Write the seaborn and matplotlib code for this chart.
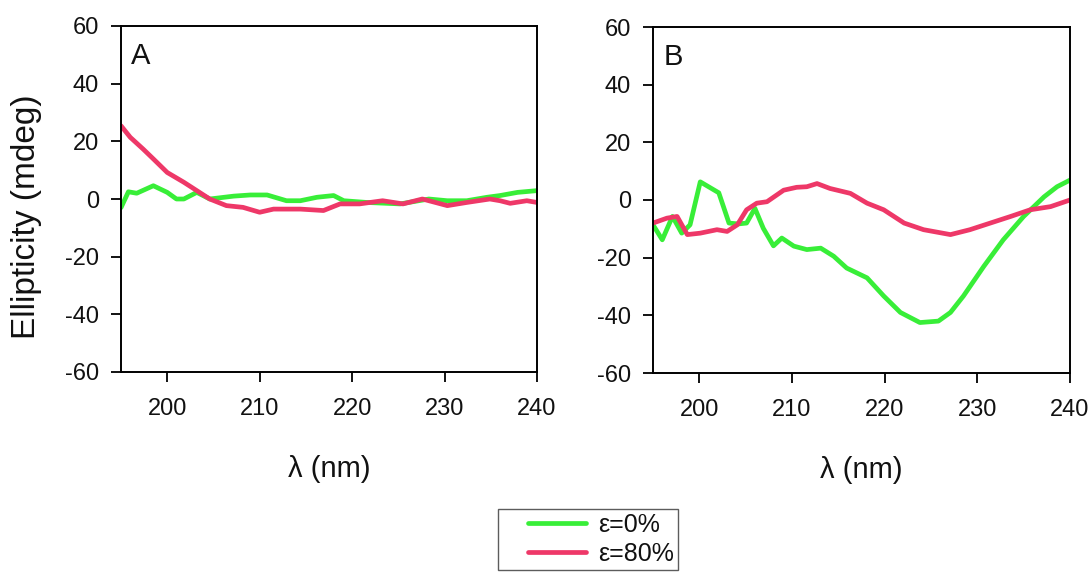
import seaborn as sns
import matplotlib.pyplot as plt
from matplotlib.legend_handler import HandlerLine2D
import pandas as pd

# Panel A, eps = 0 %
a_x0 = [195.0, 195.8, 196.7, 198.5, 200.0, 201.0, 201.8, 203.2, 204.6, 207.2, 209.0,
        210.8, 212.9, 214.4, 216.2, 218.0, 219.1, 221.6, 225.2, 228.3, 230.3, 232.4,
        234.6, 236.0, 237.9, 240.0]
a_y0 = [-3.0, 2.5, 2.0, 4.6, 2.3, 0.0, 0.0, 2.3, 0.0, 1.0, 1.4,
        1.4, -0.6, -0.6, 0.6, 1.2, -0.6, -1.2, -1.7, 0.0, -0.6, -0.6,
        0.6, 1.2, 2.3, 2.9]
# Panel A, eps = 80 %
a_x80 = [195.0, 196.0, 197.4, 198.5, 200.0, 201.8, 203.2, 204.6, 206.4, 208.2, 210.0,
         211.5, 214.4, 216.9, 218.7, 220.8, 223.3, 225.5, 227.6, 230.3, 232.4, 234.9,
         236.0, 237.1, 238.9, 240.0]
a_y80 = [25.4, 21.4, 17.3, 13.9, 9.2, 5.8, 2.9, 0.0, -2.3, -2.9, -4.6,
         -3.5, -3.5, -4.0, -1.7, -1.7, -0.6, -1.7, 0.0, -2.3, -1.2, 0.0,
         -0.6, -1.5, -0.6, -1.2]

# Panel B, eps = 0 %
b_x0 = [195.0, 196.0, 197.1, 198.1, 199.0, 200.1, 202.1, 203.2, 204.2, 205.1, 206.0,
        206.9, 208.0, 208.9, 210.2, 211.6, 213.1, 214.5, 215.9, 218.1, 219.9, 221.7,
        223.8, 225.8, 227.1, 228.5, 230.7, 232.8, 235.0, 237.2, 238.6, 240.0]
b_y0 = [-8.6, -13.8, -5.7, -11.5, -8.6, 6.3, 2.5, -8.0, -8.3, -8.0, -2.9,
        -9.8, -15.9, -13.2, -16.0, -17.2, -16.7, -19.5, -23.6, -27.0, -33.3, -39.0,
        -42.5, -42.0, -39.0, -33.3, -23.0, -13.8, -5.7, 1.1, 4.6, 6.9]
# Panel B, eps = 80 %
b_x80 = [195.0, 196.5, 197.6, 198.7, 200.1, 201.9, 203.0, 204.1, 205.1, 206.2, 207.3,
         209.1, 210.5, 211.6, 212.7, 214.1, 216.3, 218.1, 219.9, 222.1, 224.2, 227.1,
         229.2, 231.4, 233.6, 235.7, 237.9, 240.0]
b_y80 = [-8.0, -6.3, -5.7, -12.0, -11.5, -10.3, -10.9, -8.6, -3.4, -1.1, -0.6,
         3.4, 4.4, 4.6, 5.7, 4.0, 2.3, -1.1, -3.4, -8.0, -10.3, -12.0,
         -10.3, -8.0, -5.7, -3.4, -2.3, 0.0]

labels = ['ε=0%', 'ε=80%']
colors = {'ε=0%': '#38ee38', 'ε=80%': '#ee3868'}

sns.set_theme(style='ticks')
plt.rcParams['font.family'] = ['Liberation Sans', 'DejaVu Sans']
plt.rcParams['axes.unicode_minus'] = False


def make_df(x0, y0, x80, y80):
    d0 = pd.DataFrame({'wl': x0, 'ell': y0, 'eps': labels[0]})
    d80 = pd.DataFrame({'wl': x80, 'ell': y80, 'eps': labels[1]})
    return pd.concat([d0, d80], ignore_index=True)


fig = plt.figure(figsize=(10.92, 5.74), dpi=100)
axA = fig.add_axes([121 / 1092, 1 - 372 / 574, 416 / 1092, 346 / 574])
axB = fig.add_axes([653 / 1092, 1 - 373 / 574, 417 / 1092, 346 / 574])

panels = [(axA, make_df(a_x0, a_y0, a_x80, a_y80), 'A'),
          (axB, make_df(b_x0, b_y0, b_x80, b_y80), 'B')]

for ax, df, tag in panels:
    sns.lineplot(data=df, x='wl', y='ell', hue='eps', hue_order=labels,
                 palette=colors, estimator=None, linewidth=3.4, ax=ax, legend=False)
    ax.set_xlim(195, 240)
    ax.set_ylim(-60, 60)
    ax.set_xticks([200, 210, 220, 230, 240])
    ax.set_yticks([-60, -40, -20, 0, 20, 40, 60])
    ax.tick_params(axis='both', labelsize=17, length=7, width=1.3,
                   color='black', labelcolor='#111111')
    ax.tick_params(axis='x', pad=12)
    ax.tick_params(axis='y', pad=9)
    ax.tick_params(top=False, right=False)
    for s in ax.spines.values():
        s.set_color('black')
        s.set_linewidth(1.4)
    ax.set_xlabel('λ (nm)', fontsize=21, labelpad=25, color='#111111')
    ax.set_ylabel('')
    ax.text(0.025, 0.955, tag, transform=ax.transAxes, fontsize=21,
            ha='left', va='top', color='#111111')

axA.set_ylabel('Ellipticity (mdeg)', fontsize=24, color='#111111')
axA.yaxis.set_label_coords(-0.19, 0.448)

handles = [plt.Line2D([], [], color=colors[l], linewidth=3.4) for l in labels]
fig.legend(handles, labels, loc='upper left',
           bbox_to_anchor=(498 / 1092, 1 - 509 / 574), borderaxespad=0,
           fontsize=18, frameon=True, fancybox=False, edgecolor='#333333',
           handlelength=3.37, handletextpad=0.48, labelspacing=0.2,
           borderpad=0.15, labelcolor='#111111',
           handler_map={plt.Line2D: HandlerLine2D(xpad=1.05)})

fig.savefig('out.png', dpi=100)
